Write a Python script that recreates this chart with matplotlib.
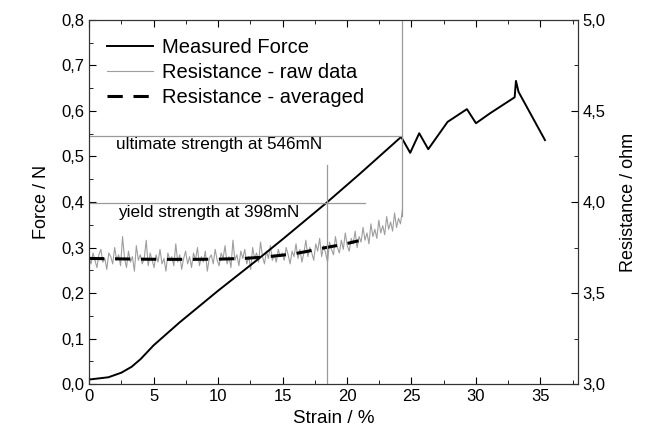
import numpy as np
import matplotlib
matplotlib.use("Agg")
from matplotlib import pyplot as plt
from matplotlib.ticker import MultipleLocator, FuncFormatter

plt.rcParams["font.family"] = ["Liberation Sans", "DejaVu Sans"]

# Measured force (N) vs strain (%)
force_strain = [0, 1.5, 2.5, 3.3, 4.0, 5.0, 7.0, 10.0, 13.0, 15.0, 18.4, 21.0, 24.2,
                24.9, 25.6, 26.3, 27.8, 29.3, 30.0, 31.1, 33.0, 33.1, 33.3, 35.35]
force = [0.010, 0.015, 0.025, 0.038, 0.055, 0.085, 0.135, 0.205, 0.272, 0.318, 0.398, 0.462, 0.543,
         0.508, 0.551, 0.516, 0.576, 0.604, 0.573, 0.595, 0.630, 0.666, 0.642, 0.536]

# Resistance raw data (ohm), sampled evenly from 0 to 24.3 % strain
raw_end = 24.3
raw_resistance = [
    3.70, 3.66, 3.72, 3.68, 3.64, 3.71, 3.74, 3.67, 3.69, 3.63, 3.72, 3.70, 3.66, 3.75, 3.68, 3.71,
    3.65, 3.81, 3.69, 3.64, 3.73, 3.67, 3.70, 3.62, 3.76, 3.68, 3.71, 3.66, 3.69, 3.79, 3.65, 3.72, 3.68,
    3.64, 3.71, 3.67, 3.74, 3.66, 3.69, 3.62, 3.72, 3.68, 3.70, 3.65, 3.77, 3.67, 3.71, 3.63, 3.69,
    3.73, 3.66, 3.70, 3.64, 3.72, 3.68, 3.75, 3.65, 3.70, 3.67, 3.73, 3.62, 3.69, 3.71, 3.66, 3.74, 3.68,
    3.65, 3.72, 3.69, 3.76, 3.66, 3.70, 3.64, 3.79, 3.68, 3.71, 3.65, 3.73, 3.69, 3.74, 3.66, 3.70,
    3.63, 3.75, 3.69, 3.72, 3.67, 3.78, 3.70, 3.66, 3.73, 3.69, 3.76, 3.68, 3.71, 3.67, 3.74, 3.70, 3.72,
    3.68, 3.75, 3.71, 3.66, 3.73, 3.70, 3.77, 3.69, 3.74, 3.67, 3.72, 3.79, 3.70, 3.75, 3.72, 3.68,
    3.77, 3.73, 3.80, 3.70, 3.76, 3.72, 3.67, 3.78, 3.74, 3.71, 3.81, 3.75, 3.72, 3.79, 3.74, 3.83, 3.76,
    3.73, 3.80, 3.77, 3.84, 3.75, 3.81, 3.78, 3.86, 3.79, 3.83, 3.77, 3.88, 3.81, 3.85, 3.80, 3.90,
    3.83, 3.87, 3.82, 3.92, 3.85, 3.89, 3.84, 3.94, 3.86, 3.91, 3.88, 3.96,
]

# Resistance averaged (ohm)
avg_strain = [0, 2, 4, 6, 8, 10, 12, 13.5, 15, 16, 17, 18, 19, 20, 20.9]
avg_resistance = [3.690, 3.688, 3.686, 3.685, 3.685, 3.686, 3.690, 3.697, 3.708, 3.717, 3.730,
                  3.745, 3.758, 3.772, 3.787]

ultimate_strain, ultimate_force = 24.25, 0.546
yield_strain, yield_force = 18.47, 0.398

fig = plt.figure(figsize=(6.5, 4.42), dpi=100)
ax = fig.add_axes([0.137, 0.131, 0.752, 0.824])
ax2 = ax.twinx()
ax.set_zorder(ax2.get_zorder() + 1)
ax.patch.set_visible(False)

raw_strain = np.linspace(0, raw_end, len(raw_resistance))
raw_line, = ax2.plot(raw_strain, raw_resistance, color="#9e9e9e", lw=0.8)
avg_line, = ax2.plot(avg_strain, avg_resistance, color="black", lw=2.2, dashes=(5, 3.5))
force_line, = ax.plot(force_strain, force, color="black", lw=1.4)

# marker lines for ultimate and yield strength
grey = "#9a9a9a"
ax.plot([0, ultimate_strain], [ultimate_force, ultimate_force], color=grey, lw=0.9)
ax.plot([ultimate_strain, ultimate_strain], [0.37, 0.8], color=grey, lw=0.9)
ax.plot([0, 21.4], [yield_force, yield_force], color=grey, lw=0.9)
ax.plot([yield_strain, yield_strain], [0, 0.481], color=grey, lw=0.9)
ax.text(2.1, 0.526, "ultimate strength at 546mN", fontsize=12.3, va="center")
ax.text(2.25, 0.377, "yield strength at 398mN", fontsize=12.3, va="center")

ax.set_xlim(0, 37.9)
ax.set_ylim(0, 0.8)
ax2.set_ylim(3.0, 5.0)

comma = lambda fmt: FuncFormatter(lambda v, p: (fmt % v).replace(".", ","))
ax.xaxis.set_major_locator(MultipleLocator(5))
ax.xaxis.set_minor_locator(MultipleLocator(2.5))
ax.yaxis.set_major_locator(MultipleLocator(0.1))
ax.yaxis.set_minor_locator(MultipleLocator(0.05))
ax.yaxis.set_major_formatter(comma("%.1f"))
ax2.yaxis.set_major_locator(MultipleLocator(0.5))
ax2.yaxis.set_minor_locator(MultipleLocator(0.25))
ax2.yaxis.set_major_formatter(comma("%.1f"))

ax.tick_params(which="both", direction="in", top=True, right=False, labelsize=12)
ax.tick_params(which="major", length=5)
ax.tick_params(which="minor", length=3)
ax2.tick_params(which="both", direction="in", labelsize=12)
ax2.tick_params(which="major", length=5)
ax2.tick_params(which="minor", length=3)
for a in (ax, ax2):
    for s in a.spines.values():
        s.set_color("#333333")

ax.set_xlabel("Strain / %", fontsize=13.5)
ax.set_ylabel("Force / N", fontsize=13, labelpad=8)
ax2.set_ylabel("Resistance / ohm", fontsize=13, labelpad=10)

ax.legend([force_line, raw_line, avg_line],
          ["Measured Force", "Resistance - raw data", "Resistance - averaged"],
          loc="upper left", frameon=False, fontsize=14.5, handlelength=2.3,
          handletextpad=0.4, labelspacing=0.3, borderaxespad=0.5)

fig.savefig("out.png", dpi=100)
